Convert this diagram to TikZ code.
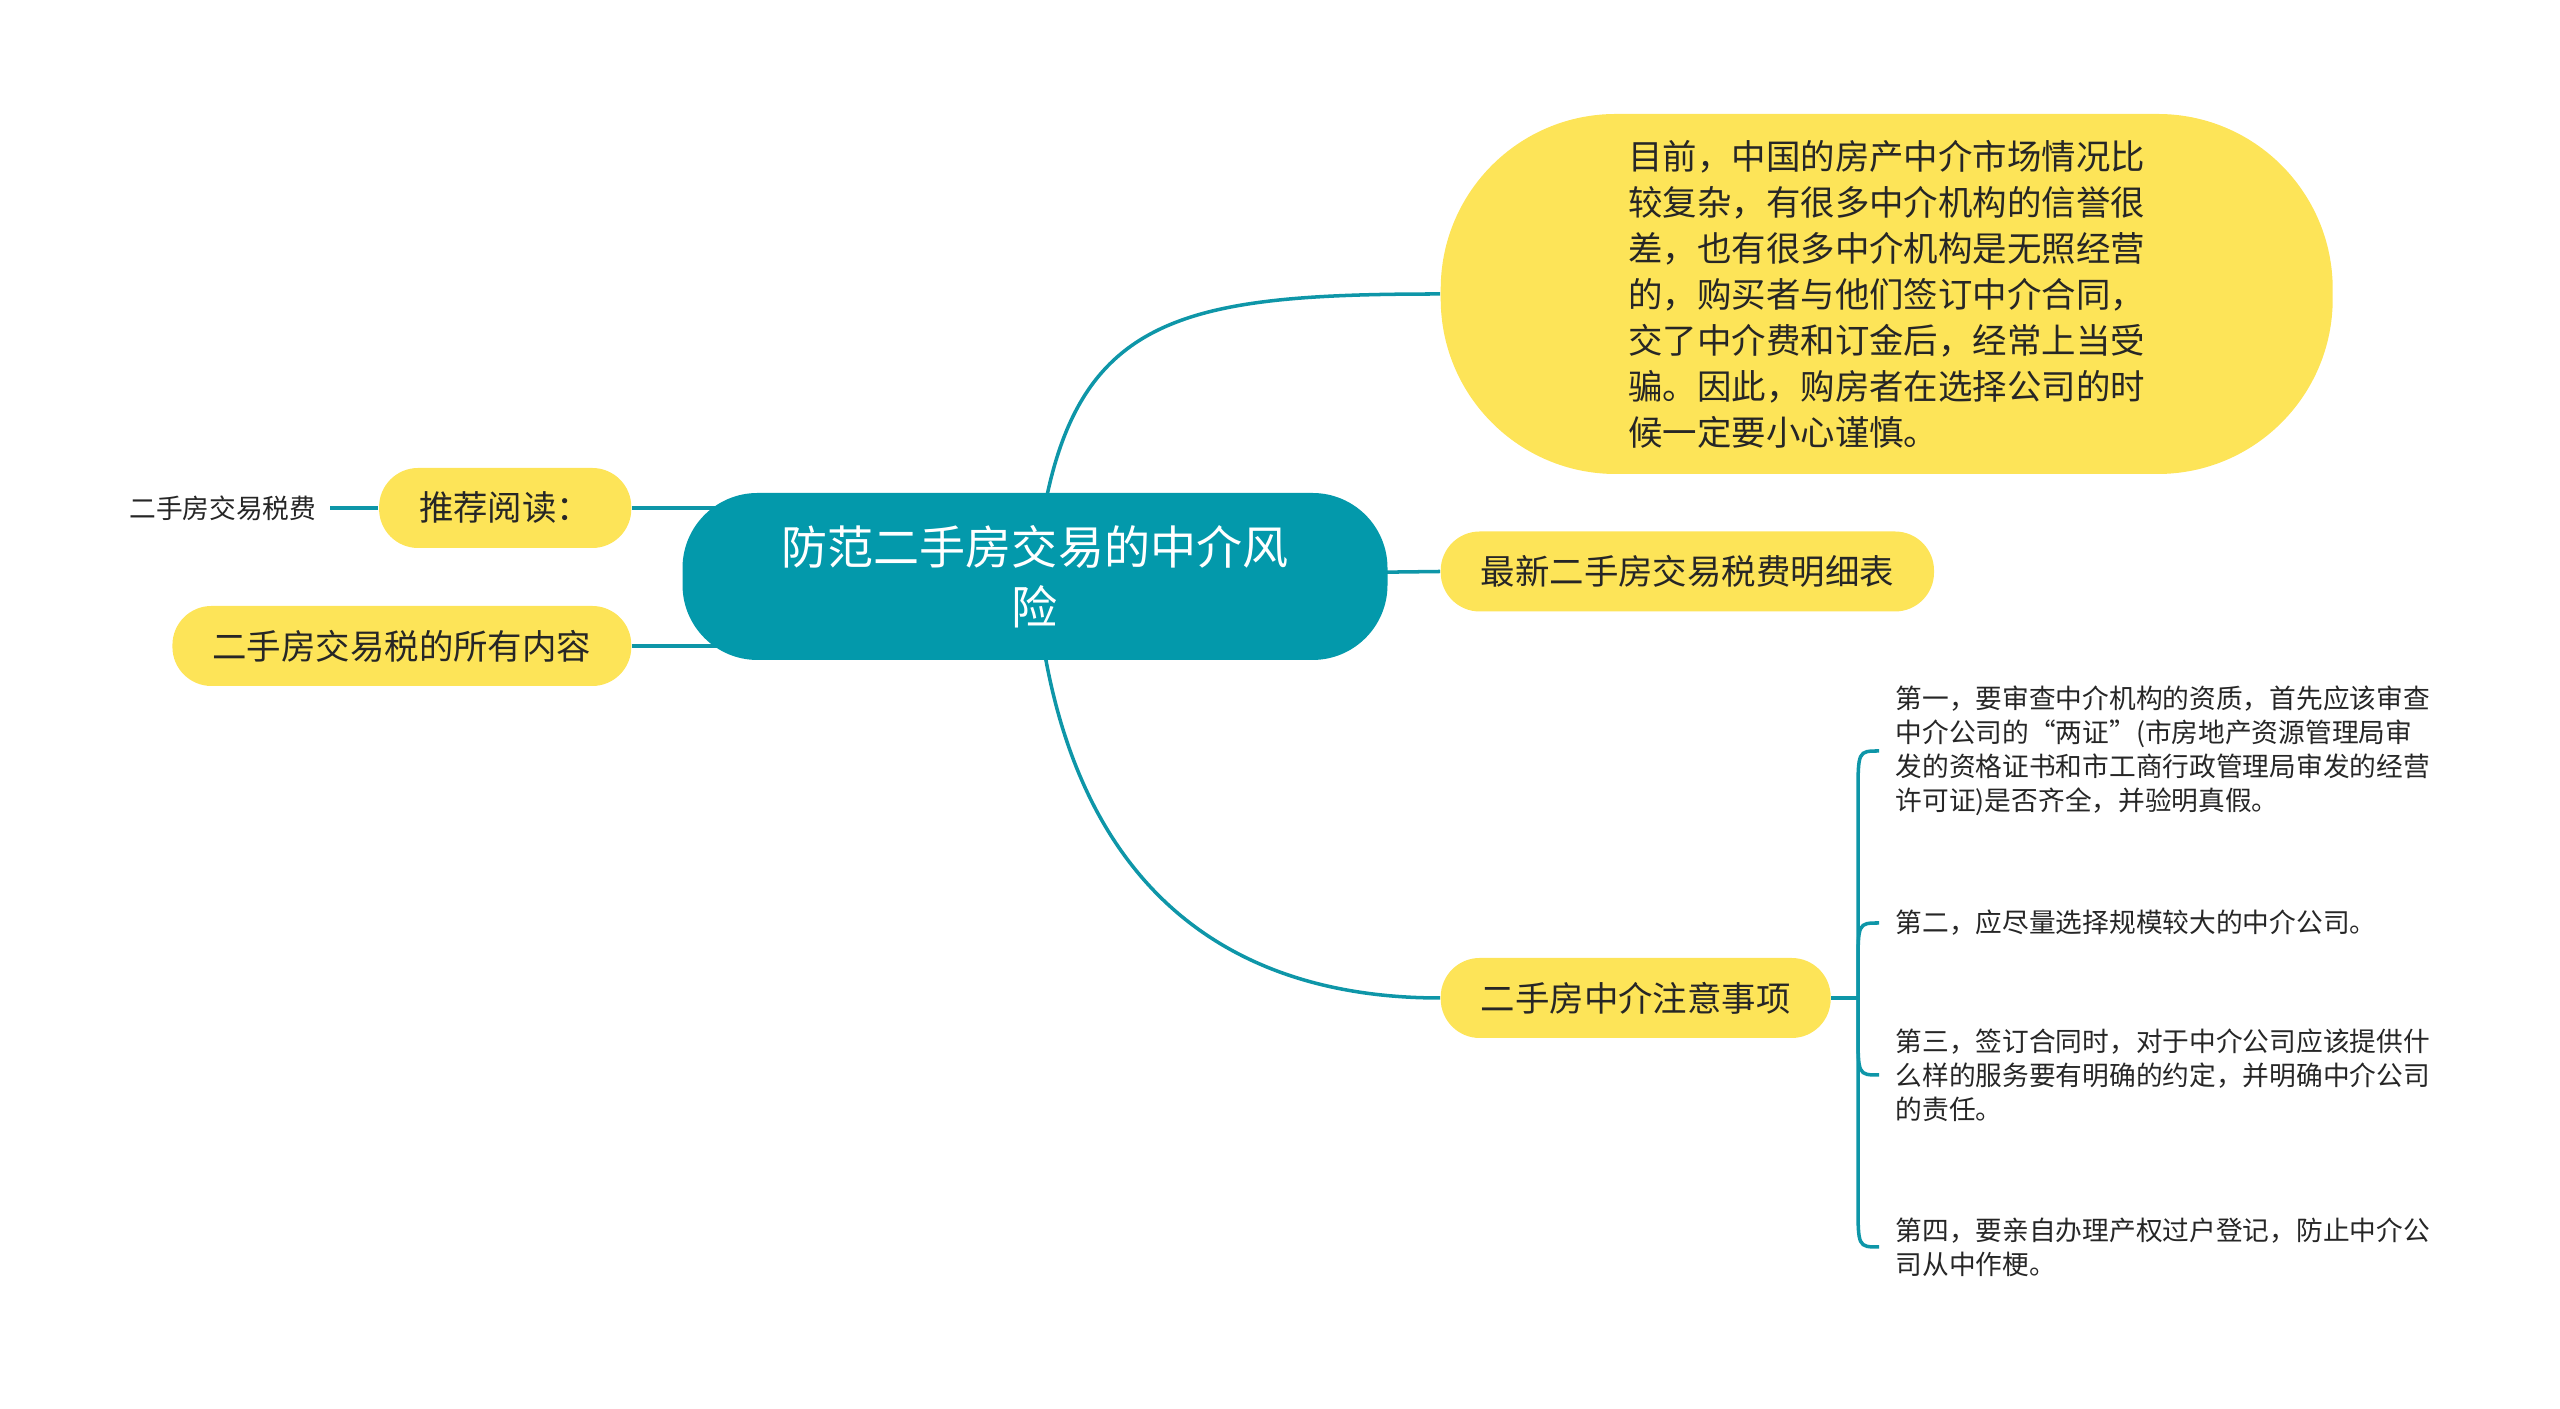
\documentclass[tikz,border=0pt]{standalone}
\usepackage{fontspec}
\setmainfont{Noto Sans CJK SC}
\usetikzlibrary{backgrounds}
\definecolor{rootteal}{RGB}{3,153,171}
\definecolor{linkteal}{RGB}{14,150,168}
\definecolor{subyellow}{RGB}{253,228,88}
\definecolor{inkgray}{RGB}{38,38,38}
\tikzset{
	rootbox/.style={fill=rootteal, rounded corners=0.75cm, minimum width=7.05cm, minimum height=1.67cm, text=white, align=center, font=\fontsize{13.1pt}{17pt}\selectfont},
	subbox/.style={fill=subyellow, rounded corners=0.39cm, minimum height=0.8cm, inner xsep=0.4cm, inner ysep=0pt, text=inkgray, font=\fontsize{9.8pt}{13.1pt}\selectfont},
	bigbox/.style={subbox, rounded corners=1.75cm, minimum width=8.92cm, minimum height=3.6cm, align=left},
	leaftext/.style={inner xsep=0.16cm, inner ysep=0pt, align=left, text=inkgray, font=\fontsize{7.6pt}{9.7pt}\selectfont},
	link/.style={draw=linkteal, line width=1pt}
}
\begin{document}
\begin{tikzpicture}
	\useasboundingbox (0,0) rectangle (25.6,14.09);
	% Paths, nodes and wires:
	\node[rootbox] (root) at (10.35, 8.325){防范二手房交易的中介风\\险};
	\node[bigbox, anchor=west] (muqian) at (14.40, 11.15){目前，中国的房产中介市场情况比\\较复杂，有很多中介机构的信誉很\\差，也有很多中介机构是无照经营\\的，购买者与他们签订中介合同，\\交了中介费和订金后，经常上当受\\骗。因此，购房者在选择公司的时\\候一定要小心谨慎。};
	\node[subbox, anchor=west] (zuixin) at (14.40, 8.375){最新二手房交易税费明细表};
	\node[subbox, anchor=west] (zhuyi) at (14.40, 4.11){二手房中介注意事项};
	\node[subbox, anchor=east] (tuijian) at (6.32, 9.01){推荐阅读：};
	\node[subbox, anchor=east] (suoyou) at (6.32, 7.63){二手房交易税的所有内容};
	\node[leaftext, inner xsep=0.13cm, anchor=east] (shuifei) at (3.30, 9.01){二手房交易税费};
	\coordinate (fork) at (18.58, 4.11);
	\node[leaftext, anchor=west] (diyi) at (18.79, 6.58){第一，要审查中介机构的资质，首先应该审查\\中介公司的“两证”(市房地产资源管理局审\\发的资格证书和市工商行政管理局审发的经营\\许可证)是否齐全，并验明真假。};
	\node[leaftext, anchor=west] (dier) at (18.79, 4.86){第二，应尽量选择规模较大的中介公司。};
	\node[leaftext, anchor=west] (disan) at (18.79, 3.34){第三，签订合同时，对于中介公司应该提供什\\么样的服务要有明确的约定，并明确中介公司\\的责任。};
	\node[leaftext, anchor=west] (disi) at (18.79, 1.62){第四，要亲自办理产权过户登记，防止中介公\\司从中作梗。};
	\begin{scope}[on background layer]
		\draw[link] (root.center) .. controls +(0.25,2.57) and +(-2.8,0) .. (muqian.west);
		\draw[link] (root.center) -- (zuixin.west);
		\draw[link] (root.center) .. controls +(0.25,-3.13) and +(-2.1,0) .. (zhuyi.west);
		\draw[link] (tuijian.east) -- (tuijian.east -| root.center);
		\draw[link] (suoyou.east) -- (suoyou.east -| root.center);
		\draw[link] (shuifei.east) -- (tuijian.west);
		\draw[link] (zhuyi.east) -- (fork);
		\draw[link] (fork) -- ([yshift=-0.45cm]fork |- diyi.west) .. controls (fork |- diyi.west) .. (diyi.west);
		\draw[link] (fork) -- ([yshift=-0.45cm]fork |- dier.west) .. controls (fork |- dier.west) .. (dier.west);
		\draw[link] (fork) -- ([yshift=0.45cm]fork |- disan.west) .. controls (fork |- disan.west) .. (disan.west);
		\draw[link] (fork) -- ([yshift=0.45cm]fork |- disi.west) .. controls (fork |- disi.west) .. (disi.west);
	\end{scope}
\end{tikzpicture}
\end{document}
